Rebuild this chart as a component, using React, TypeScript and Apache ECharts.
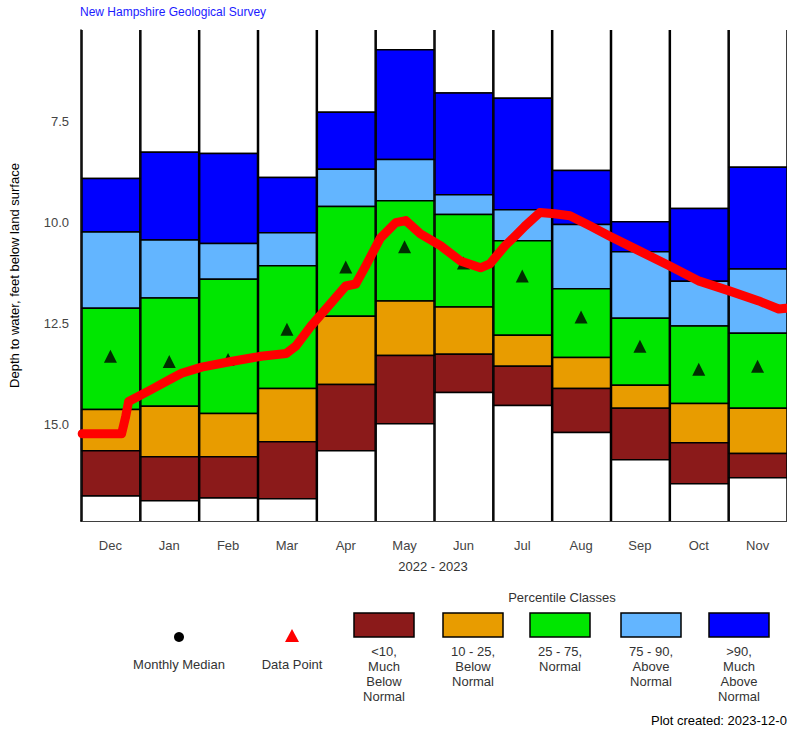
import React, { useEffect, useRef } from "react";
import * as echarts from "echarts";

const months = ["Dec","Jan","Feb","Mar","Apr","May","Jun","Jul","Aug","Sep","Oct","Nov"];
const maxVals = [8.92,8.27,8.30,8.89,7.28,5.73,6.80,6.93,8.72,9.99,9.66,8.64];
const p90 = [10.24,10.44,10.53,10.26,8.69,8.45,9.32,9.69,10.06,10.73,11.46,11.16];
const p75 = [12.13,11.88,11.41,11.08,9.61,9.47,9.81,10.46,11.65,12.38,12.57,12.75];
const p25 = [14.64,14.56,14.74,14.12,12.33,11.95,12.10,12.80,13.35,14.04,14.49,14.61];
const p10 = [15.66,15.81,15.81,15.44,14.02,13.30,13.27,13.57,14.12,14.61,15.46,15.73];
const minVals = [16.78,16.90,16.83,16.85,15.66,14.99,14.22,14.54,15.21,15.88,16.48,16.33];
const medians = [13.32,13.45,13.40,12.65,11.11,10.61,11.01,11.33,12.35,13.07,13.64,13.57];
const obsX = [-0.48,0.19,0.26,0.31,0.70,1.04,1.21,1.55,2.05,2.56,2.99,3.15,3.41,3.75,4.00,4.17,4.34,4.59,4.85,5.02,5.27,5.61,5.95,6.29,6.45,6.71,6.88,7.05,7.30,7.55,7.81,8.15,8.48,8.99,9.50,10.01,10.52,11.02,11.36,11.48];
const obsY = [15.24,15.24,14.81,14.44,14.14,13.87,13.74,13.59,13.45,13.32,13.25,13.07,12.57,12.00,11.58,11.53,11.08,10.39,10.01,9.96,10.29,10.58,10.96,11.13,11.03,10.58,10.34,10.09,9.76,9.79,9.84,10.09,10.34,10.71,11.08,11.46,11.70,11.95,12.15,12.13];
const yTicks = [7.5, 10, 12.5, 15];
const Y_MIN = 5.24, Y_MAX = 17.4;
const colors = ["#ffffff","#0000ff","#63b5ff","#00e600","#e89c00","#8b1a1a","#ffffff"];
const legendLabels = ["<10,\nMuch\nBelow\nNormal","10 - 25,\nBelow\nNormal","25 - 75,\nNormal","75 - 90,\nAbove\nNormal",">90,\nMuch\nAbove\nNormal"];
const legendColors = ["#8b1a1a","#e89c00","#00e600","#63b5ff","#0000ff"];
const FONT = "Liberation Sans, Arial, sans-serif";

export default function App() {
  const ref = useRef<HTMLDivElement>(null);
  useEffect(() => {
    const chart = echarts.init(ref.current!, null, { renderer: "svg" });
    const boxData: number[][] = [];
    months.forEach((_, i) => {
      const b = [4, maxVals[i], p90[i], p75[i], p25[i], p10[i], minVals[i], 19];
      for (let k = 0; k < 7; k++) boxData.push([i, b[k], b[k + 1], k]);
    });
    const legendX = [354, 443, 530, 621, 709];
    const graphics: any[] = [
      { type: "text", left: 80, top: 6, style: { text: "New Hampshire Geological Survey", fill: "#1a1aff", font: `12px ${FONT}` } },
      { type: "text", x: 433, y: 560, style: { text: "2022 - 2023", fill: "#333", font: `13px ${FONT}`, align: "center" } },
      { type: "text", x: 562, y: 591, style: { text: "Percentile Classes", fill: "#333", font: `13px ${FONT}`, align: "center" } },
      { type: "circle", shape: { cx: 179, cy: 637, r: 5 }, style: { fill: "#000" } },
      { type: "text", x: 179, y: 658, style: { text: "Monthly Median", fill: "#333", font: `13px ${FONT}`, align: "center" } },
      { type: "polygon", shape: { points: [[292, 629], [299, 642], [285, 642]] }, style: { fill: "#ff0000" } },
      { type: "text", x: 292, y: 658, style: { text: "Data Point", fill: "#333", font: `13px ${FONT}`, align: "center" } },
      { type: "text", x: 651, y: 714, style: { text: "Plot created: 2023-12-06", fill: "#000", font: `13px ${FONT}` } },
    ];
    legendX.forEach((x, i) => {
      graphics.push({ type: "rect", shape: { x, y: 613, width: 60, height: 24 }, style: { fill: legendColors[i], stroke: "#000", lineWidth: 1.5 } });
      graphics.push({ type: "text", x: x + 30, y: 644, style: { text: legendLabels[i], fill: "#333", font: `13px ${FONT}`, align: "center", lineHeight: 15 } });
    });
    chart.setOption({
      animation: false,
      grid: { left: 79, top: 30, width: 709, height: 491 },
      graphic: graphics,
      xAxis: {
        type: "value", min: -0.5, max: 11.5,
        axisLine: { show: true, onZero: false, lineStyle: { color: "#000", width: 1.5 } },
        axisTick: { show: false }, splitLine: { show: false },
        axisLabel: { customValues: [0,1,2,3,4,5,6,7,8,9,10,11], formatter: (v: number) => months[Math.round(v)], color: "#444", fontSize: 13, fontFamily: FONT, margin: 18 },
      },
      yAxis: {
        type: "value", inverse: true, min: Y_MIN, max: Y_MAX,
        name: "Depth to water, feet below land surface", nameLocation: "middle", nameGap: 60, nameRotate: 90,
        nameTextStyle: { color: "#000", fontSize: 13, fontFamily: FONT },
        axisLine: { show: true, onZero: false, lineStyle: { color: "#000", width: 1.5 } },
        axisTick: { show: false }, splitLine: { show: false },
        axisLabel: { customValues: yTicks, formatter: (v: number) => v.toFixed(1), color: "#444", fontSize: 13, fontFamily: FONT, margin: 12 },
      },
      series: [
        {
          type: "custom", clip: true, data: boxData, z: 1,
          renderItem: (params: any, api: any) => {
            const i = api.value(0), lo = api.value(1), hi = api.value(2), k = api.value(3);
            const a = api.coord([i - 0.5, lo]);
            const b = api.coord([i + 0.5, hi]);
            return {
              type: "rect",
              shape: { x: a[0] + 1, y: a[1], width: b[0] - a[0] - 1, height: b[1] - a[1] },
              style: { fill: colors[k], stroke: "#000", lineWidth: 1.5 },
            };
          },
        },
        {
          type: "scatter", data: medians.map((m, i) => [i, m]), symbol: "triangle", symbolSize: 13,
          itemStyle: { color: "#000" }, z: 3,
        },
        {
          type: "line", data: obsX.map((x, i) => [x, obsY[i]]), symbol: "circle", symbolSize: 8, showSymbol: true,
          lineStyle: { color: "#ff0000", width: 9, cap: "round", join: "round" }, itemStyle: { color: "#ff0000" }, z: 4,
        },
      ],
    });
    return () => chart.dispose();
  }, []);
  return <div ref={ref} style={{ position: "fixed", left: 0, top: 0, width: 787, height: 731, background: "#fff" }} />;
}
